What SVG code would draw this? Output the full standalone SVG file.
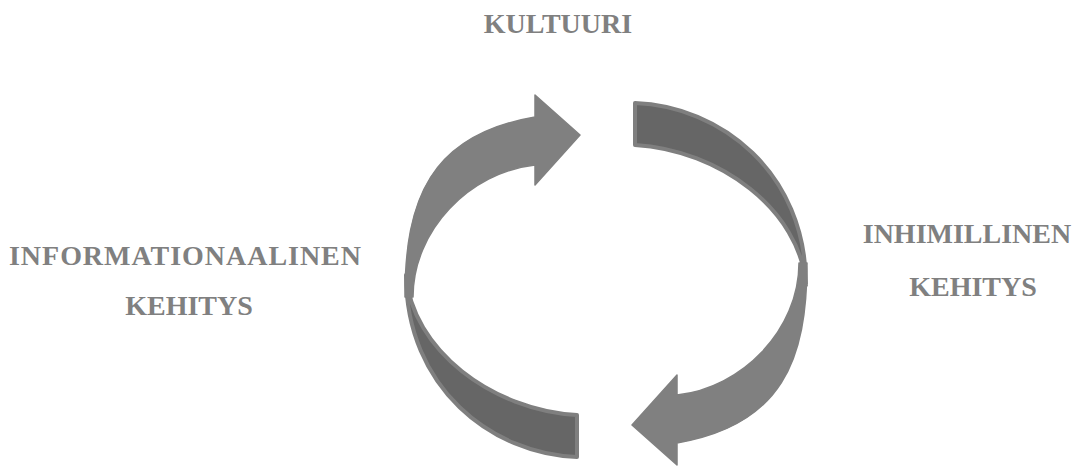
<svg xmlns="http://www.w3.org/2000/svg" width="1081" height="466" viewBox="0 0 1081 466">
<style>
.lbl{font-family:"Liberation Serif","Times New Roman",serif;font-weight:bold;font-size:28px;fill:#808080;text-anchor:middle}
.band{fill:#666666;stroke:#7f7f7f;stroke-width:4;stroke-linejoin:round}
.arrow{fill:#808080;stroke:#808080;stroke-width:1.5;stroke-linejoin:round}
</style>
<defs>
<path id="bandShape" d="M635,103 C720,106 806,172 806,285 C800,210 720,150 635,145 Z"/>
<path id="arrowShape" d="M405,297 C405,200 430,135 535,117 L535,95 L580,135 L535,185 L535,165 C470,172 413,230 413,297 Z"/>
</defs>
<rect width="1081" height="466" fill="#ffffff"/>
<g id="connectors">
<use href="#bandShape" class="band"/>
<use href="#bandShape" class="band" transform="rotate(180 606 280)"/>
<use href="#arrowShape" class="arrow"/>
<use href="#arrowShape" class="arrow" transform="rotate(180 606 280)"/>
</g>
<g id="node-kulttuuri"><text class="lbl" x="558" y="33">KULTUURI</text></g>
<g id="node-informationaalinen"><text class="lbl" x="185" y="265" textLength="352" lengthAdjust="spacing">INFORMATIONAALINEN</text><text class="lbl" x="189" y="315">KEHITYS</text></g>
<g id="node-inhimillinen"><text class="lbl" x="967" y="243">INHIMILLINEN</text><text class="lbl" x="973" y="296">KEHITYS</text></g>
</svg>
